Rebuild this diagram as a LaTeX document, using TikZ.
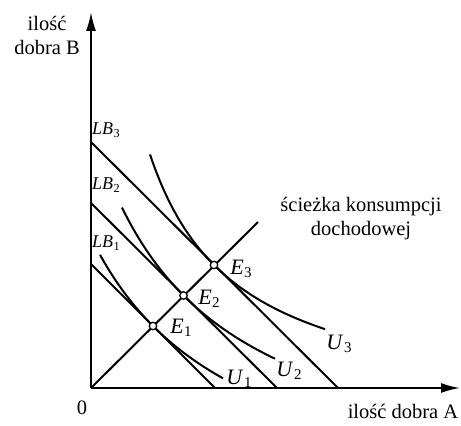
\documentclass[tikz,border=0pt]{standalone}
\usepackage{fontspec}
\setmainfont{Liberation Serif}
\usetikzlibrary{arrows.meta}
\newcommand\lbl[2]{\textit{#1}\kern0.5pt\raisebox{-0.35ex}{\fontsize{0.68em}{1em}\selectfont #2}}
\begin{document}
\begin{tikzpicture}[x=1pt,y=1pt,
  ln/.style={line width=2pt},
  axis/.style={line width=2pt,-{Latex[length=19pt,width=10pt]}},
  txt/.style={font=\fontsize{20.5}{24}\selectfont, inner sep=0pt},
  elab/.style={font=\fontsize{22}{24}\selectfont, inner sep=0pt},
  lblab/.style={font=\fontsize{18}{20}\selectfont, inner sep=0pt, anchor=west},
  pt/.style={circle, draw, line width=1.3pt, fill=white, minimum size=7.5pt, inner sep=0pt}]
\useasboundingbox (-91,-38) rectangle (370,388);
% axes
\coordinate (O) at (0,0);
\coordinate (Ytip) at (0,376);
\coordinate (Xtip) at (369,0);
\draw[axis] (O) -- (Ytip);
\draw[axis] (O) -- (Xtip);
% budget lines
\coordinate (b1a) at (0,124); \coordinate (b1b) at (124,0);
\coordinate (b2a) at (0,185); \coordinate (b2b) at (186,0);
\coordinate (b3a) at (0,246); \coordinate (b3b) at (247,0);
\draw[ln] (b1a) -- (b1b);
\draw[ln] (b2a) -- (b2b);
\draw[ln] (b3a) -- (b3b);
% expansion path
\coordinate (Pend) at (167,166);
\draw[ln] (O) -- (Pend);
% indifference curves
\draw[ln] plot[domain=9:132, samples=60, smooth] ({\x},{4284.9/((\x+145)/10)-145});
\draw[ln] plot[domain=31:184, samples=60, smooth] ({\x},{4182/((\x+112)/10)-112});
\draw[ln] plot[domain=59:234, samples=60, smooth] ({\x},{2310.4/((\x+29)/10)-29});
% equilibrium points
\node[pt] (E1) at (62,62) {};
\node[pt] (E2) at (92.5,92.5) {};
\node[pt] (E3) at (123,123) {};
% labels
\node[elab] (lE1) at (90,60) {\lbl{E}{1}};
\node[elab] (lE2) at (118,89) {\lbl{E}{2}};
\node[elab] (lE3) at (150,119) {\lbl{E}{3}};
\node[elab] (lU1) at (148,9) {\lbl{U}{1}};
\node[elab] (lU2) at (198,17) {\lbl{U}{2}};
\node[elab] (lU3) at (248,44) {\lbl{U}{3}};
\node[lblab] (lLB3) at (1,258) {\lbl{LB}{3}};
\node[lblab] (lLB2) at (1,203) {\lbl{LB}{2}};
\node[lblab] (lLB1) at (1,145) {\lbl{LB}{1}};
\node[txt] (zero) at (-9,-20) {0};
\node[txt] (xl) at (312,-23) {ilość dobra A};
\node[txt, align=center] (yl) at (-44,353) {ilość\\dobra B};
\node[txt, align=center] (path) at (270,169) {ścieżka konsumpcji\\dochodowej};
\end{tikzpicture}
\end{document}
